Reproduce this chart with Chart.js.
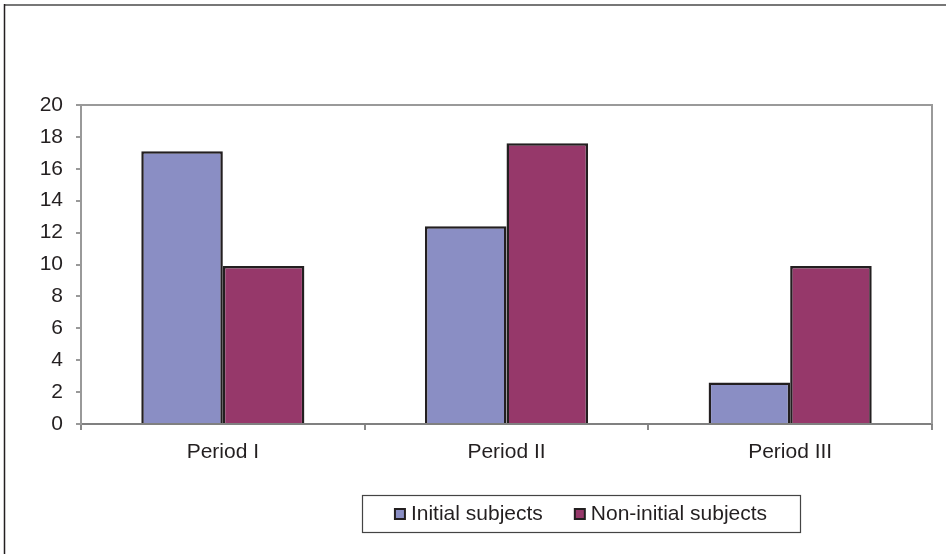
<!DOCTYPE html>
<html>
<head>
<meta charset="utf-8">
<script src="https://cdn.jsdelivr.net/npm/chart.js@4/dist/chart.umd.min.js"></script>
<style>
  html, body { margin: 0; padding: 0; background: #fff; }
  #wrap { width: 946px; height: 554px; position: relative; }
</style>
</head>
<body>
<div id="wrap"><canvas id="c" width="946" height="554"></canvas></div>
<script>
// Categories and series
const periods = ['Period I', 'Period II', 'Period III'];
const initialSubjects = [17.1, 12.4, 2.6];
const nonInitialSubjects = [9.9, 17.6, 9.9];
const seriesNames = ['Initial subjects', 'Non-initial subjects'];
const yTicks = [0, 2, 4, 6, 8, 10, 12, 14, 16, 18, 20];

const FONT = "'Liberation Sans', Arial, sans-serif";
const INK = '#231f20';

// White page, outer frame lines and the plot-area box
const frame = {
  id: 'frame',
  beforeDraw(chart) {
    const ctx = chart.ctx;
    ctx.save();
    ctx.fillStyle = '#fff';
    ctx.fillRect(0, 0, chart.width, chart.height);
    // outer frame: top and left edges
    ctx.strokeStyle = '#777';
    ctx.lineWidth = 2;
    ctx.beginPath();
    ctx.moveTo(4, 5); ctx.lineTo(chart.width, 5);
    ctx.stroke();
    ctx.strokeStyle = '#231f20';
    ctx.lineWidth = 1.5;
    ctx.beginPath();
    ctx.moveTo(4.5, 4); ctx.lineTo(4.5, chart.height);
    ctx.stroke();
    ctx.restore();
  },
  afterDatasetsDraw(chart) {
    const { ctx, chartArea: a } = chart;
    ctx.save();
    ctx.strokeStyle = '#9a9a9a';
    ctx.lineWidth = 2;
    ctx.beginPath();
    ctx.moveTo(a.left, a.top);
    ctx.lineTo(a.right, a.top);
    ctx.lineTo(a.right, a.bottom);
    ctx.stroke();
    ctx.restore();
  }
};

// Boxed legend under the axis
const boxedLegend = {
  id: 'boxedLegend',
  afterDraw(chart, args, o) {
    const ctx = chart.ctx;
    ctx.save();
    ctx.font = o.fontSize + 'px ' + FONT;
    const items = chart.data.datasets.map(ds => ({
      label: ds.label, color: ds.backgroundColor,
      w: ctx.measureText(ds.label).width
    }));
    let total = 0;
    items.forEach((it, i) => {
      total += o.marker + o.markerGap + it.w + (i < items.length - 1 ? o.itemGap : 0);
    });
    const boxW = total + 2 * o.sidePad;
    const boxL = o.cx - boxW / 2;
    const boxT = o.cy - o.boxH / 2;
    ctx.strokeStyle = '#444';
    ctx.lineWidth = 1.2;
    ctx.strokeRect(Math.round(boxL) + 0.5, Math.round(boxT) + 0.5, Math.round(boxW), o.boxH);
    let x = boxL + o.sidePad;
    ctx.textBaseline = 'middle';
    ctx.textAlign = 'left';
    items.forEach(it => {
      const my = o.cy - o.marker / 2 + 1;
      ctx.fillStyle = it.color;
      ctx.fillRect(x, my, o.marker, o.marker);
      ctx.strokeStyle = INK;
      ctx.lineWidth = 2;
      ctx.strokeRect(x, my, o.marker, o.marker);
      x += o.marker + o.markerGap;
      ctx.fillStyle = INK;
      ctx.fillText(it.label, x, o.cy + 1);
      x += it.w + o.itemGap;
    });
    ctx.restore();
  }
};

new Chart(document.getElementById('c'), {
  type: 'bar',
  data: {
    labels: periods,
    datasets: [
      { label: seriesNames[0], data: initialSubjects,
        backgroundColor: '#8a8ec4', borderColor: INK, borderWidth: 2.5 },
      { label: seriesNames[1], data: nonInitialSubjects,
        backgroundColor: '#96386a', borderColor: INK, borderWidth: 2.5 }
    ]
  },
  options: {
    responsive: false,
    animation: false,
    devicePixelRatio: 1,
    layout: { padding: { top: 105, right: 14, bottom: 0, left: 0 } },
    datasets: { bar: { categoryPercentage: 0.575, barPercentage: 1 } },
    plugins: {
      legend: { display: false },
      tooltip: { enabled: false },
      boxedLegend: {
        cx: 581, cy: 513, boxH: 37, fontSize: 21,
        marker: 10, markerGap: 6, itemGap: 32, sidePad: 33
      }
    },
    scales: {
      x: {
        afterFit(s) { s.height = 130; },
        grid: { display: true, offset: true, drawOnChartArea: false,
                tickLength: 6, color: '#888', lineWidth: 2 },
        border: { display: true, color: '#808080', width: 2 },
        ticks: { color: INK, padding: 10, font: { family: FONT, size: 21 } }
      },
      y: {
        min: 0, max: 20,
        afterFit(s) { s.width = 81; },
        afterBuildTicks(s) { s.ticks = yTicks.map(v => ({ value: v })); },
        grid: { display: true, drawOnChartArea: false, tickLength: 5,
                color: '#999', lineWidth: 2 },
        border: { display: true, color: '#999', width: 2 },
        ticks: { color: INK, padding: 13, font: { family: FONT, size: 21 } }
      }
    }
  },
  plugins: [frame, boxedLegend]
});
</script>
</body>
</html>
